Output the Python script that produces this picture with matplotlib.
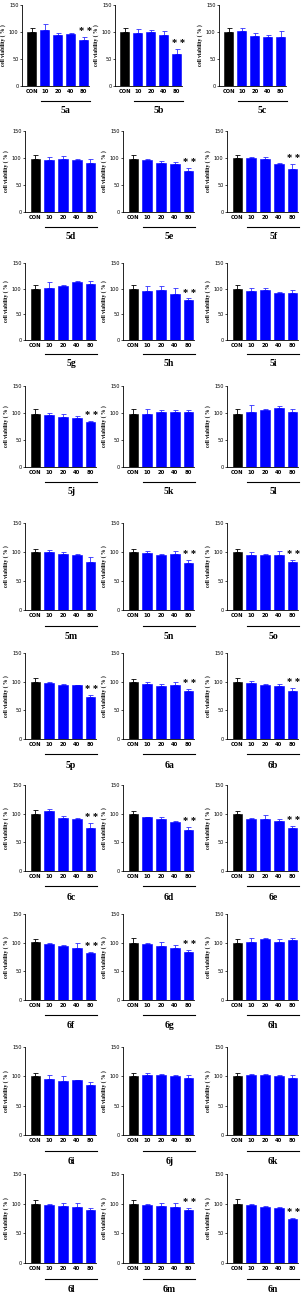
import matplotlib
matplotlib.use("Agg")
import matplotlib.pyplot as plt
import numpy as np

# panel names, in reading order (3 per row)
panels = ['5a', '5b', '5c', '5d', '5e', '5f', '5g', '5h', '5i', '5j',
          '5k', '5l', '5m', '5n', '5o', '5p', '6a', '6b', '6c', '6d',
          '6e', '6f', '6g', '6h', '6i', '6j', '6k', '6l', '6m', '6n']
groups = ['CON', '10', '20', '40', '80']

# mean cell viability (%) per panel: CON, 10, 20, 40, 80
means = [
    [100, 104, 94, 96, 86],     # 5a
    [100, 99, 100, 94, 59],     # 5b
    [100, 101, 92, 90, 91],     # 5c
    [99, 97, 99, 96, 91],       # 5d
    [99, 96, 91, 89, 76],       # 5e
    [100, 100, 98, 88, 80],     # 5f
    [99, 101, 106, 113, 109],   # 5g
    [100, 95, 98, 90, 77],      # 5h
    [99, 96, 97, 92, 92.5],     # 5i
    [99, 97, 93, 91, 83],       # 5j
    [99, 99, 101, 101, 101],    # 5k
    [99, 101, 105, 109, 102],   # 5l
    [100.5, 100, 96, 95, 83],   # 5m
    [100, 98, 95, 96, 81],      # 5n
    [100, 95, 94, 94, 83],      # 5o
    [100, 97, 94, 93.5, 74],    # 5p
    [100, 95.5, 93, 94, 83],    # 6a
    [100, 97, 95, 92.5, 83],    # 6b
    [100, 105, 92, 90, 75],     # 6c
    [100, 94, 91, 85.5, 72],    # 6d
    [100, 91.5, 90, 87, 75.5],  # 6e
    [100.5, 97.5, 93.5, 90.5, 82],  # 6f
    [100, 98, 93.5, 90.5, 83],  # 6g
    [100, 100.5, 106, 102, 104],  # 6h
    [100, 95, 91.5, 93, 86],    # 6i
    [100, 101.5, 102.5, 100, 98],  # 6j
    [100, 101.5, 102.5, 100, 98],  # 6k
    [100, 97, 95.5, 94, 89],    # 6l
    [100, 97, 95.5, 94, 89],    # 6m
    [100, 97.5, 95, 92, 75],    # 6n
]

# upper error (SD)
errors = [
    [7, 11, 5, 1.5, 5],
    [7, 6, 4, 8, 10],
    [7, 7, 6, 4, 10],
    [7, 4, 5, 2, 8],
    [6, 2, 3, 3, 5],
    [5, 2.5, 4, 2, 9],
    [8, 12, 2, 2, 5],
    [8, 10, 7, 11, 4],
    [8, 5, 5, 2, 5.5],
    [8, 3.5, 4.5, 4, 3],
    [8, 8, 5, 5, 5],
    [8, 14, 2, 4, 6],
    [5.5, 3, 4, 1.5, 8],
    [6, 4, 1, 5, 6],
    [5, 5, 2, 7, 4],
    [7, 3, 2.5, 1.5, 3],
    [5, 3.5, 3, 5.5, 4],
    [7, 4, 1, 4, 6.5],
    [6.5, 3, 4.5, 2, 8.5],
    [5, 1, 4, 2.5, 5],
    [5, 1.5, 7, 4, 2.5],
    [5.5, 2.5, 2.5, 9, 1.5],
    [7.5, 1, 7, 6, 4.5],
    [7, 7.5, 1.5, 5, 3.5],
    [5.5, 6.5, 8.5, 1, 4],
    [6, 3.5, 1, 1.5, 5],
    [6, 3, 1, 1.5, 4],
    [5.5, 3, 5, 6.5, 4],
    [5.5, 3, 5, 6.5, 4],
    [8, 2.5, 1, 3, 1.5],
]

# panels with ** on the 80 group
starred = ['5a', '5b', '5e', '5f', '5h', '5j', '5n', '5o', '5p', '6a', '6b',
           '6c', '6d', '6e', '6f', '6g', '6m', '6n']

W, H = 304, 1292
fig = plt.figure(figsize=(W / 100, H / 100), dpi=100)

# (top px, bottom px) of each row's axes
rows = [(5, 86), (131, 212), (263, 340), (386, 467), (523, 610),
        (653, 739), (785, 871), (914, 1000), (1047, 1135), (1174, 1263)]
col_left = [25, 123, 227]
ax_w = 71

x = np.arange(len(groups))
colors = ['black'] + ['#0000ff'] * 4
serif = 'Liberation Serif'

for i, name in enumerate(panels):
    r, c = divmod(i, 3)
    top, bot = rows[r]
    left = col_left[c] if r > 0 else [22, 115, 219][c]
    w = ax_w if r > 0 else 67
    ax = fig.add_axes([left / W, 1 - bot / H, w / W, (bot - top) / H])

    m = np.array(means[i])
    e = np.array(errors[i])
    for j in range(len(groups)):
        ax.bar(x[j], m[j], width=0.7, color=colors[j], edgecolor=colors[j],
               linewidth=0.4, zorder=2)
        ecol = 'black' if j == 0 else '#3030ff'
        ax.errorbar(x[j], m[j], yerr=[[0], [e[j]]], fmt='none', ecolor=ecol,
                    elinewidth=0.6, capsize=1.8, capthick=0.6, zorder=1)

    if name in starred:
        ax.text(x[-1] + 0.1, m[-1] + e[-1] + 1.5, '* *', ha='center',
                va='bottom', fontsize=7.5, fontweight='bold', family=serif)

    ax.set_ylim(0, 150)
    ax.set_xlim(-0.75, 4.4)
    ax.set_yticks([0, 50, 100, 150])
    ax.set_xticks(x)
    ax.set_xticklabels(groups)
    ax.tick_params(axis='y', labelsize=3.6, length=1.5, width=0.5, pad=1)
    ax.tick_params(axis='x', labelsize=3.8, length=0, pad=2.5)
    for lab in ax.get_xticklabels():
        lab.set_fontweight('bold')
    for sp in ['top', 'right']:
        ax.spines[sp].set_visible(False)
    for sp in ['left', 'bottom']:
        ax.spines[sp].set_linewidth(0.6)
    ax.set_ylabel('cell viability ( % )', fontsize=4.0, family=serif,
                  fontweight='bold', labelpad=2)

    # line under the dose groups and panel label
    trans = ax.get_xaxis_transform()
    ax.plot([0.7, 4.5], [-0.18, -0.18], color='black', lw=0.8,
            transform=trans, clip_on=False)
    ax.text(2.6, -0.25, name, transform=trans, ha='center', va='top',
            fontsize=7, fontweight='bold', family=serif)

fig.savefig('out.png', dpi=100)
